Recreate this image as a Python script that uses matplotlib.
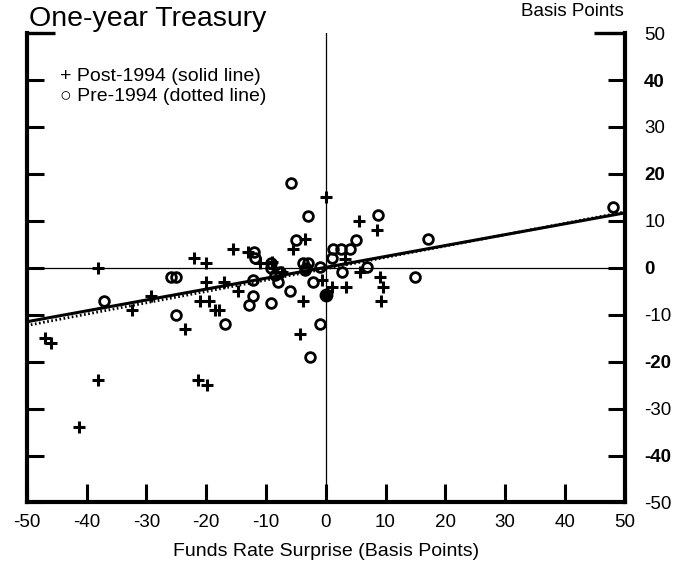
import matplotlib
matplotlib.use("Agg")
import matplotlib.pyplot as plt
import numpy as np

# Post-1994 observations (plus markers)
post_x = [-47, -46, -38, -38, -41.3, -32.4, -29.3, -23.6, -21.3, -19.8, -21, -19.5,
          -22, -20, -20, -17, -18.5, -17.8, -15.5, -14.7, -13, -11, -9, -8.7, -7.3,
          -5.5, -3.5, -3.8, -4.3, 0, -0.7, 1, 3.4, 3.3, 5.5, 8.6, 5.7, 9, 9.6, 9.2]
post_y = [-15, -16, 0, -24, -34, -9, -6, -13, -24, -25, -7, -7,
          2, 1, -3, -3, -9, -9, 4, -5, 3.3, 1, 1.2, 0, -1,
          4, 6.2, -7, -14, 15, -2.5, -4, -4, 1.8, 10, 8, -1, -2, -4, -7]

# Pre-1994 observations (open circles)
pre_x = [-37, -25.8, -25.1, -25.1, -16.8, -12.8, -12.1, -12.2, -12, -11.9, -9.1, -9.1,
         -7.7, -8.5, -8, -9.1, -6, -5.8, -5, -3, -3.8, -3, -3.3, -3.5, -1, -2.1,
         -0.9, -2.6, 1.2, 2.6, 4, 1, 2.8, 5.1, 6.9, 8.8, 14.9, 17.1, 48.1]
pre_y = [-7, -2, -2, -10, -12, -8, -6, -2.7, 3.3, 2, 1.1, 0,
         -0.8, -1.6, -3, -7.6, -5, 18, 6, 11, 1, 1, 0, -0.5, 0.2, -3,
         -12, -19, 4, 4, 4, 2.1, -0.8, 6, 0.1, 11.2, -2, 6.1, 13]

# Overlapping observation drawn as a solid dot
dot_x = [0.1]
dot_y = [-5.8]

# Fitted lines: (slope, intercept)
post_fit = (0.232, 0.1)
pre_fit = (0.242, -0.2)

ticks = [-50, -40, -30, -20, -10, 0, 10, 20, 30, 40, 50]
bold_yticks = [40, 20, 0, -20, -40]

FONT = ["Liberation Sans", "DejaVu Sans"]


def main():
    plt.rcParams["font.family"] = FONT
    fig = plt.figure(figsize=(6.85, 5.71), dpi=100)
    ax = fig.add_axes([0.039, 0.120, 0.873, 0.822])

    ax.set_xlim(-50, 50)
    ax.set_ylim(-50, 50)

    # zero lines
    ax.axhline(0, color="black", lw=0.9, zorder=1)
    ax.axvline(0, color="black", lw=0.9, zorder=1)

    xs = np.array([-50, 50])
    ax.plot(xs, pre_fit[0] * xs + pre_fit[1], color="black", lw=2.0,
            linestyle=(0, (0.6, 0.9)), zorder=2)
    ax.plot(xs, post_fit[0] * xs + post_fit[1], color="black", lw=2.2, zorder=3)

    ax.plot(post_x, post_y, linestyle="none", marker="+", ms=8, mew=2.2,
            color="black", zorder=4)
    ax.plot(pre_x, pre_y, linestyle="none", marker="o", ms=7, mew=2.0,
            mfc="none", mec="black", zorder=4)
    ax.plot(dot_x, dot_y, linestyle="none", marker="o", ms=9,
            color="black", zorder=4)

    # frame
    ax.spines["top"].set_visible(False)
    for side in ["left", "right", "bottom"]:
        ax.spines[side].set_linewidth(3)
        ax.spines[side].set_capstyle("projecting")

    ax.set_xticks(ticks)
    ax.set_xticklabels([str(t) for t in ticks], fontsize=13.5)
    ax.set_yticks(ticks)
    ax.set_yticklabels([str(t) for t in ticks], fontsize=13.5)
    ax.tick_params(axis="x", direction="in", length=13, width=2.2, pad=8)
    ax.tick_params(axis="y", direction="in", length=12, width=2.2, pad=14,
                   left=True, right=True, labelleft=False, labelright=True)
    for lab, t in zip(ax.get_yticklabels(), ticks):
        if t in bold_yticks:
            lab.set_fontweight("bold")

    # longer ticks at the top of the frame
    ax.plot([0, 0.047], [1, 1], transform=ax.transAxes, color="black",
            lw=2.4, clip_on=False, solid_capstyle="butt")
    ax.plot([0.948, 1], [1, 1], transform=ax.transAxes, color="black",
            lw=2.4, clip_on=False, solid_capstyle="butt")

    ax.set_xlabel("Funds Rate Surprise (Basis Points)", fontsize=14, labelpad=9)

    fig.text(0.043, 0.967, "One-year Treasury", fontsize=20.5, va="center", ha="left")
    fig.text(0.835, 0.979, "Basis Points", fontsize=13.5, va="center", ha="center")
    ax.text(0.055, 0.908, "+ Post-1994 (solid line)", transform=ax.transAxes,
            fontsize=14, va="center", family=FONT)
    ax.text(0.055, 0.866, "\u25cb Pre-1994 (dotted line)", transform=ax.transAxes,
            fontsize=14, va="center", family=FONT)

    fig.savefig("out.png", dpi=100)


if __name__ == "__main__":
    main()
